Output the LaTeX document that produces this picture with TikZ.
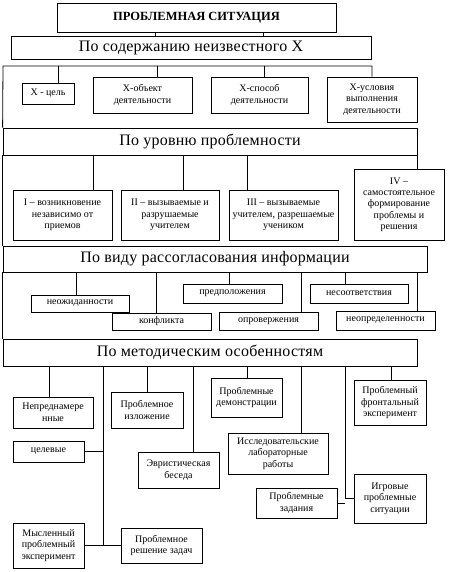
\documentclass[tikz,border=0pt]{standalone}
\usepackage{fontspec}
\setmainfont{Liberation Serif}
\usetikzlibrary{positioning,calc}

\begin{document}
\begin{tikzpicture}[x=1pt,y=-1pt,line width=0.8pt,
  box/.style 2 args={draw,inner sep=0pt,align=center,minimum width=#1pt,minimum height=#2pt,font=\fontsize{10}{11.5}\selectfont},
  head/.style 2 args={draw,inner sep=0pt,align=center,minimum width=#1pt,minimum height=#2pt,font=\fontsize{16}{18}\selectfont\addfontfeature{LetterSpace=1.5}}]
\useasboundingbox (0,0) rectangle (448,572);

% Title and first group
\node[box={279}{29},font=\fontsize{12.5}{14}\selectfont\bfseries] (title) at (196.5,17.5) {ПРОБЛЕМНАЯ СИТУАЦИЯ};
\node[head={360}{23}] (cat1) at (191,47.5) {По содержанию неизвестного Х};
\foreach \x in {155,263} \draw (title.south -| \x,0) -- (cat1.north -| \x,0);

\node[box={52}{21}] (xcel) at (48,93.5) {Х - цель};
\node[box={99}{36}] (xobj) at (142.5,95) {Х-объект\\деятельности};
\node[box={97}{36}] (xspo) at (259.5,95) {Х-способ\\деятельности};
\node[box={90}{45}] (xusl) at (372,99.5) {Х-условия\\выполнения\\деятельности};

% Level of problem
\node[head={414}{27}] (cat2) at (210,141.5) {По уровню проблемности};
\coordinate (fr) at (3,66);
\draw (cat2.north west) -- (fr) -| (xusl.north);
\foreach \x/\n in {58/xcel,157/xobj,264/xspo} \draw (fr -| \x,0) -- (\n.north -| \x,0);

\node[box={99}{50}] (lvl1) at (62.5,215) {I – возникновение\\независимо от\\приемов};
\node[box={98}{50}] (lvl2) at (170,215) {II – вызываемые и\\разрушаемые\\учителем};
\node[box={109}{50}] (lvl3) at (283.5,215) {III – вызываемые\\учителем, разрешаемые\\учеником};
\node[box={90}{71},font=\fontsize{10}{11.3}\selectfont] (lvl4) at (399,204.5) {IV –\\самостоятельное\\формирование\\проблемы и\\решения};
\foreach \x/\n in {93/lvl1,183/lvl2,247/lvl3} \draw (cat2.south -| \x,0) -- (\n.north -| \x,0);
\draw (cat2.south east) -- (cat2.south east |- lvl4.north);

% Mismatch of information
\node[head={424}{26}] (cat3) at (215,259) {По виду рассогласования информации};
\draw (cat2.south west) -- (cat3.north west);
\node[box={98}{17}] (neozh) at (80,303.5) {неожиданности};
\node[box={99}{17}] (konfl) at (161.5,321.5) {конфликта};
\node[box={99}{19}] (predp) at (232.5,293.5) {предположения};
\node[box={99}{18}] (oprov) at (268.5,321) {опровержения};
\node[box={98}{19}] (nesoo) at (359,293.5) {несоответствия};
\node[box={99}{19}] (neopr) at (385.5,320.5) {неопределенности};
\foreach \x/\n in {76/neozh,156/konfl,229/predp,301/oprov,345/nesoo,417/neopr}
  \draw (cat3.south -| \x,0) -- (\n.north -| \x,0);

% Methodical features
\node[head={414}{27}] (cat4) at (210,352.5) {По методическим особенностям};
\draw (cat3.south west) -- (cat4.north west);
\node[box={80}{31}] (nepr) at (53,412.5) {Непреднамере\\нные};
\node[box={72}{36}] (izl) at (147,410) {Проблемное\\изложение};
\node[box={71}{39}] (dem) at (246.5,397.5) {Проблемные\\демонстрации};
\node[box={72}{45}] (front) at (390,402.5) {Проблемный\\фронтальный\\эксперимент};
\node[box={71}{21}] (cel) at (48.5,451.5) {целевые};
\node[box={81}{36}] (evr) at (178.5,470) {Эвристическая\\беседа};
\node[box={100}{41}] (issl) at (278,453.5) {Исследовательские\\лабораторные\\работы};
\node[box={81}{30}] (zad) at (296.5,503) {Проблемные\\задания};
\node[box={72}{49}] (igr) at (390,498.5) {Игровые\\проблемные\\ситуации};
\node[box={71}{45}] (mysl) at (48.5,545.5) {Мысленный\\проблемный\\эксперимент};
\node[box={81}{35}] (resh) at (161.5,545.5) {Проблемное\\решение задач};
\foreach \x/\n in {49/nepr,147/izl,193/evr,247/dem,301/issl,391/front}
  \draw (cat4.south -| \x,0) -- (\n.north -| \x,0);
\draw (cat4.south -| 103,0) |- (resh.west);
\draw (cel.east) -- (cel.east -| 103,0);
\draw (mysl.east) -- (mysl.east -| 103,0);
\draw (cat4.south -| 345,0) |- (igr.west);
\draw (zad.east) -- (zad.east -| 345,0);
\end{tikzpicture}
\end{document}
